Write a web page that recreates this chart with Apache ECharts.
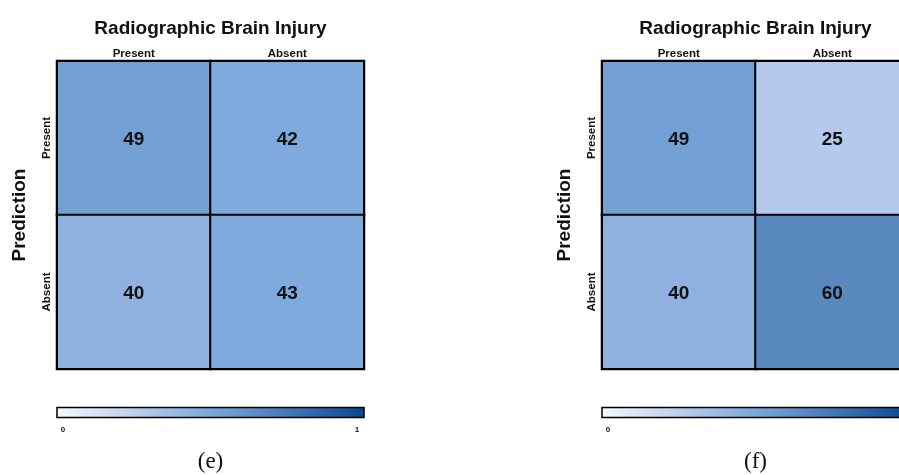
<!DOCTYPE html>
<html><head><meta charset="utf-8">
<script src="https://cdn.jsdelivr.net/npm/echarts@6/dist/echarts.min.js"></script>
<style>html,body{margin:0;padding:0;background:#fff}#c{width:899px;height:475px}</style>
</head><body><div id="c"></div>
<script>
const truthCategories = ['Present', 'Absent'];
const predCategories = ['Present', 'Absent'];
const title = 'Radiographic Brain Injury';
const panelLabels = ['(e)', '(f)'];
// [truthIndex, predIndex, count]
const panelE = [[0, 0, 49], [1, 0, 42], [0, 1, 40], [1, 1, 43]];
const panelF = [[0, 0, 49], [1, 0, 25], [0, 1, 40], [1, 1, 60]];
const colorbarTicks = ['0', '1'];

const chart = echarts.init(document.getElementById('c'));
const lefts = [57, 602];
const W = 307, H = 308, TOP = 61;
const FONT = 'Liberation Sans, Arial';

const grids = [], xAxes = [], yAxes = [], series = [], titles = [], graphics = [], vms = [];
[panelE, panelF].forEach((d, i) => {
  grids.push({left: lefts[i], top: TOP, width: W, height: H, outerBoundsMode: 'none', containLabel: false,
    show: true, borderColor: '#000', borderWidth: 2, backgroundColor: 'transparent', z: 5});
  xAxes.push({type: 'category', gridIndex: i, data: truthCategories, position: 'top',
    axisLine: {show: false}, axisTick: {show: false}, splitLine: {show: false},
    axisLabel: {fontFamily: FONT, fontSize: 11.5, fontWeight: 'bold', color: '#111', margin: 1}});
  yAxes.push({type: 'category', gridIndex: i, data: predCategories, inverse: true,
    axisLine: {show: false}, axisTick: {show: false}, splitLine: {show: false},
    axisLabel: {fontFamily: FONT, fontSize: 11.5, fontWeight: 'bold', color: '#111', rotate: 90, margin: 4, align: 'center', verticalAlign: 'bottom'},
    name: 'Prediction', nameLocation: 'middle', nameRotate: 90, nameGap: 28,
    nameTextStyle: {fontFamily: FONT, fontSize: 19, fontWeight: 'bold', color: '#111'}});
  series.push({type: 'heatmap', xAxisIndex: i, yAxisIndex: i, data: d,
    itemStyle: {borderColor: '#000', borderWidth: 2},
    label: {show: true, formatter: p => p.value[2], fontFamily: FONT, fontSize: 19, fontWeight: 'bold', color: '#111', offset: [0, 2]},
    emphasis: {disabled: true}});
  vms.push({type: 'piecewise', show: false, seriesIndex: i, dimension: 2, pieces: [
    {max: 30, color: '#b5c9ee'}, {min: 30, max: 41, color: '#8fb1df'}, {min: 41, max: 46, color: '#7eaade'},
    {min: 46, max: 55, color: '#73a0d4'}, {min: 55, color: '#5a89c0'}]});
  const cx = lefts[i] + W / 2;
  titles.push({text: title, left: cx, top: 19, textAlign: 'center', padding: 0,
    textStyle: {fontFamily: FONT, fontSize: 19, fontWeight: 'bold', color: '#111'}});
  graphics.push({type: 'rect', shape: {x: lefts[i], y: 407.5, width: W, height: 10},
    style: {stroke: '#000', lineWidth: 1.5, fill: new echarts.graphic.LinearGradient(0, 0, 1, 0, [
      {offset: 0, color: '#f7f9fd'}, {offset: 0.25, color: '#bdd0ee'}, {offset: 0.5, color: '#7ca6da'},
      {offset: 0.75, color: '#4479b9'}, {offset: 1, color: '#08478f'}])}});
  graphics.push({type: 'text', x: lefts[i] + 6, y: 430, style: {text: colorbarTicks[0], font: 'bold 8px Liberation Sans, Arial', fill: '#111', textAlign: 'center', textVerticalAlign: 'middle'}});
  graphics.push({type: 'text', x: lefts[i] + W - 7, y: 430, style: {text: colorbarTicks[1], font: 'bold 8px Liberation Sans, Arial', fill: '#111', textAlign: 'center', textVerticalAlign: 'middle'}});
  graphics.push({type: 'text', x: cx, y: 462, style: {text: panelLabels[i], font: '23px Liberation Serif, Times New Roman, serif', fill: '#111', textAlign: 'center', textVerticalAlign: 'middle'}});
});

chart.setOption({
  animation: false,
  title: titles,
  grid: grids,
  xAxis: xAxes,
  yAxis: yAxes,
  visualMap: vms,
  series: series,
  graphic: graphics
});
</script></body></html>
